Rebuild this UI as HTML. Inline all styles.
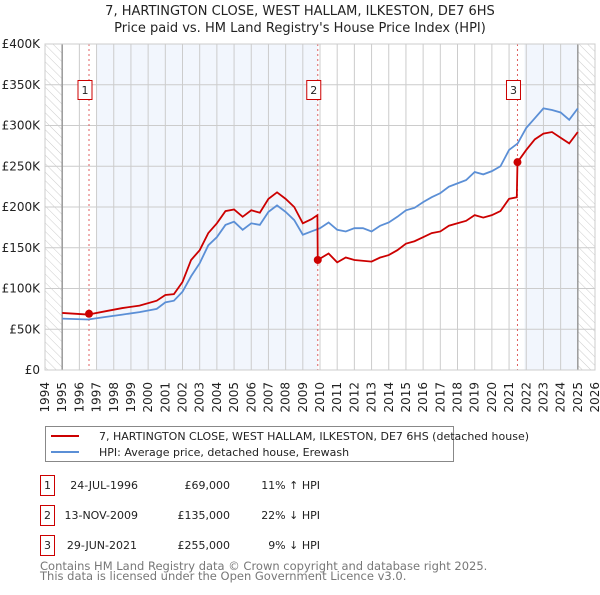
<!DOCTYPE html>
<html><head><meta charset="utf-8"><style>
body{margin:0;background:#fff;font-family:"Liberation Sans","DejaVu Sans",sans-serif;}
svg text{font-family:"DejaVu Sans","Liberation Sans",sans-serif;}
</style></head><body>
<svg id="chart" width="600" height="590" xmlns="http://www.w3.org/2000/svg">
<defs><pattern id="hatch" width="6" height="6" patternUnits="userSpaceOnUse" patternTransform="rotate(-45)"><line x1="0" y1="0" x2="0" y2="6" stroke="#ccc" stroke-width="1"/></pattern></defs>
<text x="300" y="15" text-anchor="middle" font-size="13" fill="#222">7, HARTINGTON CLOSE, WEST HALLAM, ILKESTON, DE7 6HS</text>
<text x="300" y="32" text-anchor="middle" font-size="13" fill="#222">Price paid vs. HM Land Registry's House Price Index (HPI)</text>
<g id="plot"></g>
<g>
<rect x="45.5" y="426.5" width="408" height="35" fill="#fff" stroke="#888"/>
<line x1="51" y1="436" x2="79" y2="436" stroke="#cc0000" stroke-width="2"/>
<text x="99" y="440" font-size="11" fill="#222">7, HARTINGTON CLOSE, WEST HALLAM, ILKESTON, DE7 6HS (detached house)</text>
<line x1="51" y1="452" x2="79" y2="452" stroke="#5b8fd6" stroke-width="2"/>
<text x="99" y="456" font-size="11" fill="#222">HPI: Average price, detached house, Erewash</text>
</g>
<g font-size="11" fill="#222">
<rect x="40.5" y="475.5" width="14" height="20" fill="#fff" stroke="#cc0000"/><text x="47.5" y="489" text-anchor="middle">1</text>
<text x="138" y="489" text-anchor="end">24-JUL-1996</text><text x="230" y="489" text-anchor="end">£69,000</text><text x="320" y="489" text-anchor="end">11% ↑ HPI</text>
<rect x="40.5" y="505.5" width="14" height="20" fill="#fff" stroke="#cc0000"/><text x="47.5" y="519" text-anchor="middle">2</text>
<text x="138" y="519" text-anchor="end">13-NOV-2009</text><text x="230" y="519" text-anchor="end">£135,000</text><text x="320" y="519" text-anchor="end">22% ↓ HPI</text>
<rect x="40.5" y="535.5" width="14" height="20" fill="#fff" stroke="#cc0000"/><text x="47.5" y="549" text-anchor="middle">3</text>
<text x="137" y="549" text-anchor="end">29-JUN-2021</text><text x="230" y="549" text-anchor="end">£255,000</text><text x="320" y="549" text-anchor="end">9% ↓ HPI</text>
</g>
<text x="40" y="570" font-size="11.5" fill="#777">Contains HM Land Registry data © Crown copyright and database right 2025.</text>
<text x="40" y="580" font-size="11.5" fill="#777">This data is licensed under the Open Government Licence v3.0.</text>
</svg>
<script>
const hpiYears=[1995,1996.5,1997.5,1998.5,1999.5,2000.5,2001,2001.5,2002,2002.5,2003,2003.5,2004,2004.5,2005,2005.5,2006,2006.5,2007,2007.5,2008,2008.5,2009,2009.5,2010,2010.5,2011,2011.5,2012,2012.5,2013,2013.5,2014,2014.5,2015,2015.5,2016,2016.5,2017,2017.5,2018,2018.5,2019,2019.5,2020,2020.5,2021,2021.5,2022,2022.5,2023,2023.5,2024,2024.5,2025];
const hpiValues=[63000,62000,65000,68000,71000,75000,83000,85000,96000,115000,131000,153000,163000,178000,182000,172000,180000,178000,194000,202000,194000,184000,166000,170000,174000,181000,172000,170000,174000,174000,170000,177000,181000,188000,196000,199000,206000,212000,217000,225000,229000,233000,243000,240000,244000,250000,270000,278000,297000,309000,321000,319000,316000,307000,321000];
const priceYears=[1995,1996.5,1997.5,1998.5,1999.5,2000.5,2001,2001.5,2002,2002.5,2003,2003.5,2004,2004.5,2005,2005.5,2006,2006.5,2007,2007.5,2008,2008.5,2009,2009.5,2009.85,2009.87,2010.5,2011,2011.5,2012,2013,2013.5,2014,2014.5,2015,2015.5,2016,2016.5,2017,2017.5,2018,2018.5,2019,2019.5,2020,2020.5,2021,2021.45,2021.49,2022,2022.5,2023,2023.5,2024,2024.5,2025];
const priceValues=[70000,68000,72000,76000,79000,85000,92000,93000,108000,135000,147000,168000,180000,195000,197000,188000,196000,193000,210000,218000,210000,200000,180000,185000,190000,135000,143000,132000,138000,135000,133000,138000,141000,147000,155000,158000,163000,168000,170000,177000,180000,183000,190000,187000,190000,195000,210000,212000,255000,270000,283000,290000,292000,285000,278000,292000];
const saleYears=[1996.56,2009.87,2021.49];
const saleValues=[69000,135000,255000];
const saleLabels=["1","2","3"];
const yTicks=[0,50000,100000,150000,200000,250000,300000,350000,400000];
const yTickLabels=["£0","£50K","£100K","£150K","£200K","£250K","£300K","£350K","£400K"];
const xTicks=[1994,1995,1996,1997,1998,1999,2000,2001,2002,2003,2004,2005,2006,2007,2008,2009,2010,2011,2012,2013,2014,2015,2016,2017,2018,2019,2020,2021,2022,2023,2024,2025,2026];
const L=45,R=595,T=44,B=370;
const xs=y=>L+(y-1994)/32*(R-L);
const ys=v=>B-v/400000*(B-T);
const g=document.getElementById('plot');const NS='http://www.w3.org/2000/svg';
function mk(t,a){const e=document.createElementNS(NS,t);for(const k in a)e.setAttribute(k,a[k]);g.appendChild(e);return e;}
let e;
e=mk('rect',{x:L,y:T,width:R-L,height:B-T,fill:'#fff'});


e=mk('rect',{x:xs(1997),y:T,width:xs(2009.87)-xs(1997),height:B-T,fill:'#f2f6fd'});


e=mk('rect',{x:xs(2021.9),y:T,width:xs(2025)-xs(2021.9),height:B-T,fill:'#f2f6fd'});


e=mk('rect',{x:L,y:T,width:xs(1995)-L,height:B-T,fill:'url(#hatch)'});


e=mk('rect',{x:xs(2025),y:T,width:R-xs(2025),height:B-T,fill:'url(#hatch)'});


xTicks.forEach(y=>{e=mk('line',{x1:xs(y),x2:xs(y),y1:T,y2:B,stroke:'#ccc','stroke-width':1});


const tx=xs(y)+4,ty=382;
e=mk('text',{x:tx,y:ty,'text-anchor':'end','font-size':12,fill:'#222',transform:'rotate(-90 '+tx+' '+ty+')'});e.textContent=y;

});
yTicks.forEach((v,i)=>{e=mk('line',{x1:L,x2:R,y1:ys(v),y2:ys(v),stroke:'#ccc','stroke-width':1});


e=mk('text',{x:40,y:ys(v)+4,'text-anchor':'end','font-size':12,fill:'#222'});e.textContent=yTickLabels[i];

});
[1995,2025].forEach(y=>{e=mk('line',{x1:xs(y),x2:xs(y),y1:T,y2:B,stroke:'#999','stroke-width':1.5});

});
saleYears.forEach(y=>{e=mk('line',{x1:xs(y),x2:xs(y),y1:T,y2:B,stroke:'#e06060','stroke-width':1,'stroke-dasharray':'2,3'});

});
e=mk('polyline',{points:hpiYears.map((y,i)=>xs(y)+','+ys(hpiValues[i])).join(' '),fill:'none',stroke:'#5b8fd6','stroke-width':1.8});


e=mk('polyline',{points:priceYears.map((y,i)=>xs(y)+','+ys(priceValues[i])).join(' '),fill:'none',stroke:'#cc0000','stroke-width':1.8});


saleYears.forEach((y,i)=>{e=mk('circle',{cx:xs(y),cy:ys(saleValues[i]),r:4,fill:'#cc0000'});


e=mk('rect',{x:xs(y)-11,y:80.5,width:14,height:19,fill:'#fff',stroke:'#cc0000'});


e=mk('text',{x:xs(y)-4,y:94,'text-anchor':'middle','font-size':11,fill:'#222'});e.textContent=saleLabels[i];

});
e=mk('rect',{x:L,y:T,width:R-L,height:B-T,fill:'none',stroke:'#ccc'});


</script>
</body></html>
